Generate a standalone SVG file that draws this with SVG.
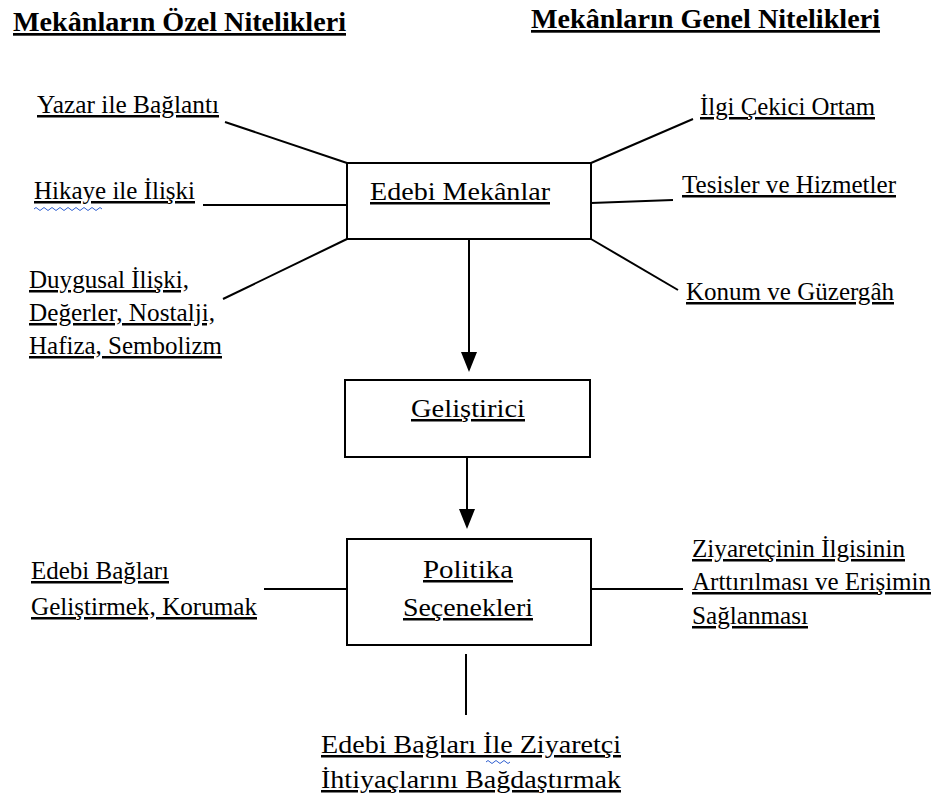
<svg xmlns="http://www.w3.org/2000/svg" width="931" height="805" viewBox="0 0 931 805">
<defs>
<style>
text{font-family:"Liberation Serif","Times New Roman",Times,"Noto Serif","DejaVu Serif",FreeSerif,serif;fill:#000;text-decoration:underline}
.t{font-size:27px;font-weight:bold}
.l{font-size:25px}
.box{fill:#fff;stroke:#000;stroke-width:2}
.ln{stroke:#000;stroke-width:2;fill:none}
.sq{fill:none;stroke:#2f5fd0;stroke-width:1}
</style>
</defs>
<rect width="931" height="805" fill="#fff"/>
<text class="t" x="13" y="31" font-family="Liberation Serif" textLength="333" lengthAdjust="spacingAndGlyphs">Mekânların Özel Nitelikleri</text>
<text class="t" x="531" y="28" font-family="Liberation Serif" textLength="349" lengthAdjust="spacingAndGlyphs">Mekânların Genel Nitelikleri</text>
<g id="connectors">
<line class="ln" x1="225" y1="122" x2="347" y2="163"/>
<line class="ln" x1="203" y1="205" x2="347" y2="205"/>
<line class="ln" x1="223" y1="299" x2="347" y2="239"/>
<line class="ln" x1="591" y1="163" x2="693" y2="119"/>
<line class="ln" x1="591" y1="203" x2="673" y2="200"/>
<line class="ln" x1="591" y1="239" x2="678" y2="290"/>
<line class="ln" x1="469" y1="239" x2="469" y2="354"/>
<path d="M461,352 L477,352 L469,372 Z" fill="#000"/>
<line class="ln" x1="467" y1="457" x2="467" y2="510"/>
<path d="M459,509 L475,509 L467,529 Z" fill="#000"/>
<line class="ln" x1="264" y1="589" x2="347" y2="589"/>
<line class="ln" x1="591" y1="589" x2="683" y2="589"/>
<line class="ln" x1="466" y1="654" x2="466" y2="715"/>
</g>
<g id="edebi-mekanlar">
<rect class="box" x="347" y="163" width="244" height="76"/>
<text class="l" x="370" y="200" textLength="180" lengthAdjust="spacingAndGlyphs">Edebi Mekânlar</text>
</g>
<g id="yazar">
<text class="l" x="37" y="113" textLength="182" lengthAdjust="spacingAndGlyphs">Yazar ile Bağlantı</text>
</g>
<g id="hikaye">
<text class="l" x="34" y="199" textLength="161" lengthAdjust="spacingAndGlyphs">Hikaye ile İlişki</text>
<path class="sq" d="M34,209 q2,-3 4,0 t4,0 t4,0 t4,0 t4,0 t4,0 t4,0 t4,0 t4,0 t4,0 t4,0 t4,0 t4,0 t4,0 t4,0 t4,0 t4,0"/>
</g>
<g id="duygusal">
<text class="l" x="29" y="288" textLength="160" lengthAdjust="spacingAndGlyphs">Duygusal İlişki,</text>
<text class="l" x="29" y="321" textLength="186" lengthAdjust="spacingAndGlyphs">Değerler, Nostalji,</text>
<text class="l" x="29" y="354" textLength="193" lengthAdjust="spacingAndGlyphs">Hafiza, Sembolizm</text>
</g>
<g id="ilgi">
<text class="l" x="700" y="115" textLength="175" lengthAdjust="spacingAndGlyphs">İlgi Çekici Ortam</text>
</g>
<g id="tesisler">
<text class="l" x="682" y="193" textLength="214" lengthAdjust="spacingAndGlyphs">Tesisler ve Hizmetler</text>
</g>
<g id="konum">
<text class="l" x="686" y="300" textLength="208" lengthAdjust="spacingAndGlyphs">Konum ve Güzergâh</text>
</g>
<g id="gelistirici">
<rect class="box" x="345" y="380" width="245" height="77"/>
<text class="l" x="411" y="417" textLength="114" lengthAdjust="spacingAndGlyphs">Geliştirici</text>
</g>
<g id="politika">
<rect class="box" x="347" y="539" width="244" height="106"/>
<text class="l" x="423" y="578" textLength="90" lengthAdjust="spacingAndGlyphs">Politika</text>
<text class="l" x="403" y="616" textLength="130" lengthAdjust="spacingAndGlyphs">Seçenekleri</text>
</g>
<g id="edebi-baglari">
<text class="l" x="31" y="579" textLength="138" lengthAdjust="spacingAndGlyphs">Edebi Bağları</text>
<text class="l" x="31" y="615" textLength="226" lengthAdjust="spacingAndGlyphs">Geliştirmek, Korumak</text>
</g>
<g id="ziyaretci">
<text class="l" x="692" y="557" textLength="213" lengthAdjust="spacingAndGlyphs">Ziyaretçinin İlgisinin</text>
<text class="l" x="692" y="590" textLength="239" lengthAdjust="spacingAndGlyphs">Arttırılması ve Erişimin</text>
<text class="l" x="692" y="624" textLength="116" lengthAdjust="spacingAndGlyphs">Sağlanması</text>
</g>
<g id="bagdastirmak">
<text class="l" x="321" y="753" textLength="300" lengthAdjust="spacingAndGlyphs">Edebi Bağları İle Ziyaretçi</text>
<path class="sq" d="M486,762 q2,-3 4,0 t4,0 t4,0 t4,0 t4,0 t4,0"/>
<text class="l" x="321" y="788" textLength="300" lengthAdjust="spacingAndGlyphs">İhtiyaçlarını Bağdaştırmak</text>
</g>
</svg>
